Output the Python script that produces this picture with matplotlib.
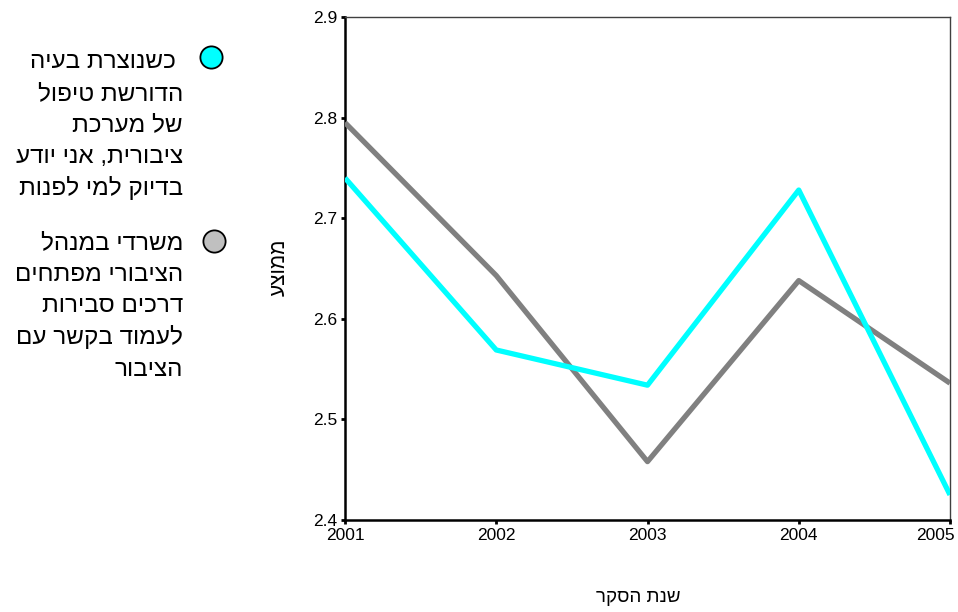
import matplotlib
matplotlib.use("Agg")
import matplotlib.pyplot as plt
import matplotlib.transforms as mtransforms
from matplotlib.lines import Line2D

plt.rcParams['font.family'] = ['Liberation Sans', 'DejaVu Sans']

years = [2001, 2002, 2003, 2004, 2005]
series_know = [2.740, 2.569, 2.534, 2.728, 2.425]
series_office = [2.795, 2.643, 2.458, 2.638, 2.536]
y_ticks = [2.4, 2.5, 2.6, 2.7, 2.8, 2.9]

label_know = [" כשנוצרת בעיה", "הדורשת טיפול", "של מערכת", "ציבורית, אני יודע", "בדיוק למי לפנות"]
label_office = ["משרדי במנהל", "הציבורי מפתחים", "דרכים סבירות", "לעמוד בקשר עם", "הציבור"]
x_title = "שנת הסקר"
y_title = "ממוצע"


def vis(s):
    return s[::-1]


W, H = 958, 612
fig = plt.figure(figsize=(W / 100, H / 100), dpi=100)
ax = fig.add_axes([345 / W, 1 - 520 / H, (950 - 345) / W, (520 - 17) / H])

ax.plot(years, series_office, color='#808080', lw=3.8, solid_capstyle='butt', zorder=3)
ax.plot(years, series_know, color='#00FFFF', lw=3.8, solid_capstyle='butt', zorder=4)

ax.set_xlim(2001, 2005)
ax.set_ylim(2.4, 2.9)
ax.set_xticks(years)
ax.set_xticklabels([str(y) for y in years])
ax.set_yticks(y_ticks)
ax.set_yticklabels([f"{t:.1f}" for t in y_ticks])
ax.tick_params(axis='both', direction='out', length=3, width=2, labelsize=12.5, pad=2.5, colors='black')

# last x tick label kept inside the figure, as in the reference
last = ax.get_xticklabels()[-1]
last.set_horizontalalignment('right')
last.set_transform(last.get_transform() + mtransforms.ScaledTranslation(5 / 100, 0, fig.dpi_scale_trans))

for side in ['left', 'bottom']:
    ax.spines[side].set_linewidth(1.8)
    ax.spines[side].set_color('black')
for side in ['top', 'right']:
    ax.spines[side].set_linewidth(1.0)
    ax.spines[side].set_color('#404040')

fig.text(638 / W, 1 - 598 / H, vis(x_title), ha='center', va='center', fontsize=13.5)
fig.text(279 / W, 1 - 267 / H, vis(y_title), ha='center', va='center', fontsize=15, rotation=90)

# legend
step = 31.7
for i, l in enumerate(label_know):
    fig.text(183 / W, 1 - (68 + i * step) / H, vis(l), ha='right', va='baseline', fontsize=17.5)
for i, l in enumerate(label_office):
    fig.text(183 / W, 1 - (249 + i * step) / H, vis(l), ha='right', va='baseline', fontsize=17.5)
fig.add_artist(Line2D([211 / W], [1 - 57 / H], marker='o', markersize=16, markerfacecolor='#00FFFF',
                      markeredgecolor='black', markeredgewidth=1.3, transform=fig.transFigure))
fig.add_artist(Line2D([214 / W], [1 - 241 / H], marker='o', markersize=16, markerfacecolor='#C0C0C0',
                      markeredgecolor='black', markeredgewidth=1.3, transform=fig.transFigure))

fig.savefig("out.png", dpi=100)
